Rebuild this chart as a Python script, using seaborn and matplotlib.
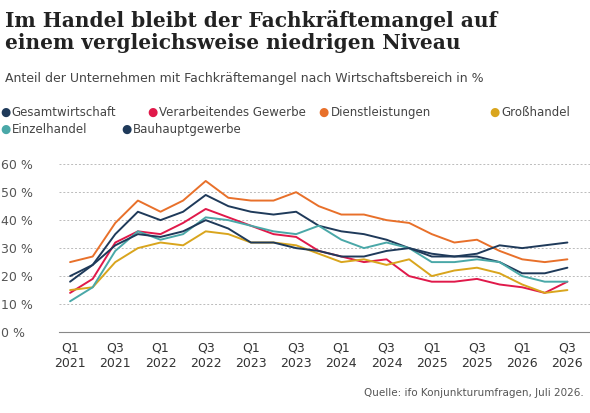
import matplotlib
matplotlib.use("Agg")
import matplotlib.pyplot as plt
import seaborn as sns
import pandas as pd

quartale = [f"Q{q}\n{y}" for y in range(2021, 2027) for q in (1, 2, 3, 4)][:23]

gesamt = [18, 24, 35, 43, 40, 43, 49, 45, 43, 42, 43, 38, 36, 35, 33, 30, 28, 27, 27, 25, 21, 21, 23]
verarbeitend = [14, 19, 32, 36, 35, 39, 44, 41, 38, 35, 34, 29, 27, 25, 26, 20, 18, 18, 19, 17, 16, 14, 18]
dienst = [25, 27, 39, 47, 43, 47, 54, 48, 47, 47, 50, 45, 42, 42, 40, 39, 35, 32, 33, 29, 26, 25, 26]
gross = [15, 16, 25, 30, 32, 31, 36, 35, 32, 32, 31, 28, 25, 26, 24, 26, 20, 22, 23, 21, 17, 14, 15]
einzel = [11, 16, 29, 36, 33, 35, 41, 40, 38, 36, 35, 38, 33, 30, 32, 30, 25, 25, 26, 25, 20, 18, 18]
bau = [20, 24, 31, 35, 34, 36, 40, 37, 32, 32, 30, 29, 27, 27, 29, 30, 27, 27, 28, 31, 30, 31, 32]

reihen = {
    "Gesamtwirtschaft": gesamt,
    "Verarbeitendes Gewerbe": verarbeitend,
    "Dienstleistungen": dienst,
    "Großhandel": gross,
    "Einzelhandel": einzel,
    "Bauhauptgewerbe": bau,
}
farben = ["#1f3a5a", "#e0194a", "#e8702a", "#d9a51d", "#4aa8a8", "#1f3a5a"]

df = pd.DataFrame([
    {"x": i, "Bereich": name, "Wert": v}
    for name, werte in reihen.items() for i, v in enumerate(werte)
])

sns.set_style("white")
fig = plt.figure(figsize=(5.9, 4.13), dpi=100)
ax = fig.add_axes([0.1, 0.196, 0.9, 0.42])

sns.lineplot(data=df, x="x", y="Wert", hue="Bereich", palette=farben, ax=ax,
             linewidth=1.4, legend=False)

ax.set_ylim(0, 62)
ax.set_yticks(range(0, 61, 10))
ax.set_yticklabels([f"{v} %" for v in range(0, 61, 10)], color="#555555", fontsize=9)
ax.yaxis.grid(True, linestyle=(0, (2, 2)), color="#bbbbbb", linewidth=0.7)
ax.tick_params(axis="y", length=0, pad=42)
for lab in ax.get_yticklabels():
    lab.set_horizontalalignment("left")
    lab.set_verticalalignment("center_baseline")
ax.set_xlim(-0.49, 23.0)
ax.set_xticks(range(0, 23, 2))
ax.set_xticklabels([quartale[i] for i in range(0, 23, 2)], fontsize=9, color="#333333")
ax.set_xticks(range(0, 23), minor=True)
ax.tick_params(axis="x", which="both", length=4, color="#888888", pad=3)
ax.set_xlabel("")
ax.set_ylabel("")
for s in ["top", "right", "left"]:
    ax.spines[s].set_visible(False)
ax.spines["bottom"].set_color("#888888")

fig.text(0.008, 0.975, "Im Handel bleibt der Fachkräftemangel auf\neinem vergleichsweise niedrigen Niveau",
         fontsize=14.5, fontweight="bold", family="DejaVu Serif", va="top", color="#222222",
         linespacing=1.1)
fig.text(0.008, 0.825, "Anteil der Unternehmen mit Fachkräftemangel nach Wirtschaftsbereich in %",
         fontsize=9, color="#444444", va="top")

# Legende
leg_items = [
    (0.0, 0.727, 0), (0.25, 0.727, 1), (0.54, 0.727, 2), (0.83, 0.727, 3),
    (0.0, 0.687, 4), (0.205, 0.687, 5),
]
namen = list(reihen.keys())
for x, y, i in leg_items:
    fig.text(x, y, "●", color=farben[i], fontsize=8.5, va="center")
    fig.text(x + 0.02, y, namen[i], color="#444444", fontsize=8.5, va="center")

fig.text(0.99, 0.04, "Quelle: ifo Konjunkturumfragen, Juli 2026.", ha="right",
         fontsize=7.5, color="#555555")

fig.savefig("out.png", dpi=100)
